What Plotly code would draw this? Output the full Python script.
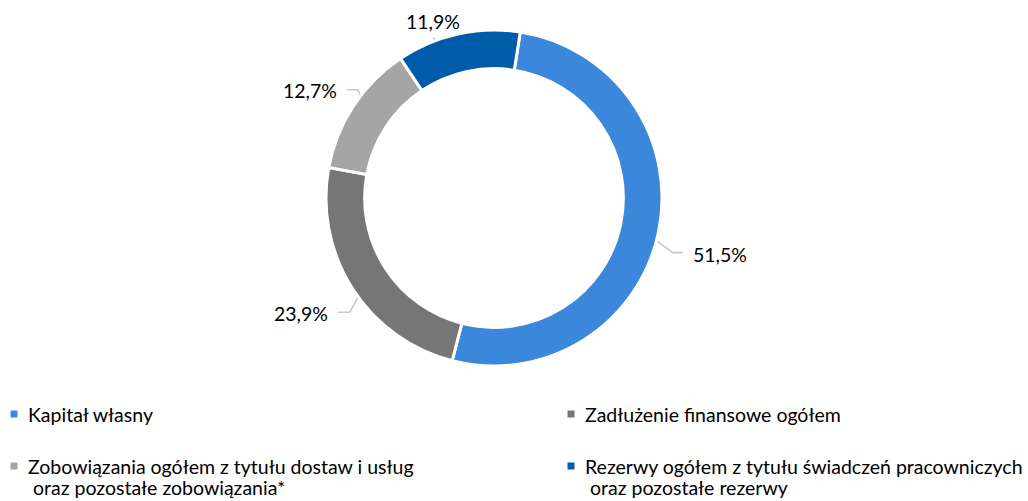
import math
import plotly.graph_objects as go

# ---- data ----
categories = [
    "Kapitał własny",
    "Zadłużenie finansowe ogółem",
    "Zobowiązania ogółem z tytułu dostaw i usług<br>\u00a0oraz pozostałe zobowiązania*",
    "Rezerwy ogółem z tytułu świadczeń pracowniczych<br>\u00a0oraz pozostałe rezerwy",
]
shares = [51.5, 23.9, 12.7, 11.9]
value_labels = ["51,5%", "23,9%", "12,7%", "11,9%"]

# ---- style ----
colors = ["#3A87DC", "#767676", "#A5A5A5", "#005BAA"]
FONT = "Lato"
FS = 19.5
W, H = 1028, 501
CX, CY, R = 494, 198, 168
HOLE = 0.77
ROT = 9
# leader line style per slice: elbow radius, angular offset, horizontal tail
elbow_r = [187, 184, 174, 171]
elbow_da = [5.3, -5.8, 5.2, -8.5]
tail = [10, -12, -11, 0]
LINE_C = "#C9C9C9"
LINE_GAP = 21

fig = go.Figure()
fig.add_trace(go.Pie(
    labels=[c.replace("<br>", " ") for c in categories], values=shares, sort=False,
    direction="clockwise", rotation=ROT, hole=HOLE, textinfo="none", showlegend=False,
    marker=dict(colors=colors, line=dict(color="white", width=3)),
    domain=dict(x=[(CX - R) / W, (CX + R) / W], y=[1 - (CY + R) / H, 1 - (CY - R) / H]),
))

total = sum(shares)
cum = 0.0
r_mid = R * (1 + HOLE) / 2
annotations = []
for i, v in enumerate(shares):
    mid = math.radians(ROT + 360 * (cum + v / 2) / total)
    cum += v
    x1 = CX + r_mid * math.sin(mid)
    y1 = CY - r_mid * math.cos(mid)
    a2 = mid + math.radians(elbow_da[i])
    x2 = CX + elbow_r[i] * math.sin(a2)
    y2 = CY - elbow_r[i] * math.cos(a2)
    x3 = x2 + tail[i]
    fig.add_trace(go.Scatter(x=[x1, x2, x3], y=[y1, y2, y2], mode="lines",
                             line=dict(color=LINE_C, width=1.6), hoverinfo="skip",
                             showlegend=False))
    if tail[i] > 0:
        annotations.append(dict(x=x3 + 8, y=y2 + 2, text=value_labels[i], xanchor="left",
                                yanchor="middle", showarrow=False))
    elif tail[i] < 0:
        annotations.append(dict(x=x3 - 8, y=y2 + 1, text=value_labels[i], xanchor="right",
                                yanchor="middle", showarrow=False))
    else:
        annotations.append(dict(x=x2, y=y2 - 3, text=value_labels[i], xanchor="center",
                                yanchor="bottom", showarrow=False))
for a in annotations:
    a.update(xref="x", yref="y", font=dict(family=FONT, size=FS, color="#000000"))

# ---- manual legend (2 x 2 grid) ----
leg_x = [14, 571, 14, 571]
leg_y = [414, 414, 466, 466]
fig.add_trace(go.Scatter(x=leg_x, y=leg_y, mode="markers",
                         marker=dict(symbol="square", size=7, color=colors),
                         hoverinfo="skip", showlegend=False))
for i, name in enumerate(categories):
    for j, line in enumerate(name.split("<br>")):
        annotations.append(dict(x=leg_x[i] + 12, y=leg_y[i] + j * LINE_GAP, text=line,
                                xref="x", yref="y", xanchor="left", yanchor="middle",
                                align="left", showarrow=False,
                                font=dict(family=FONT, size=FS, color="#000000")))

fig.update_layout(
    width=W, height=H, margin=dict(l=0, r=0, t=0, b=0),
    paper_bgcolor="white", plot_bgcolor="rgba(0,0,0,0)",
    xaxis=dict(range=[0, W], visible=False, fixedrange=True),
    yaxis=dict(range=[H, 0], visible=False, fixedrange=True),
    annotations=annotations, showlegend=False,
)
fig.write_html("out.html", config={"displayModeBar": False},
               post_script="document.body.style.margin='0';")
